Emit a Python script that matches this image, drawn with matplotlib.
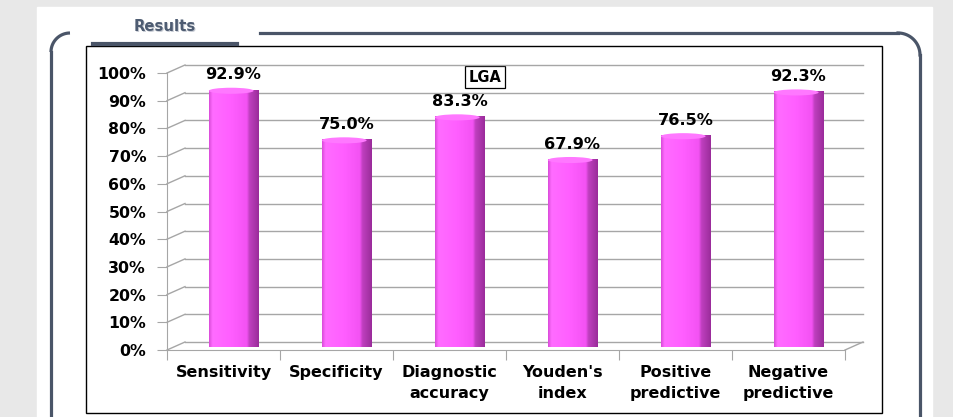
import numpy as np
import matplotlib
matplotlib.use("Agg")
import matplotlib.pyplot as plt
from matplotlib import transforms
from matplotlib.patches import Rectangle, Ellipse
from matplotlib.lines import Line2D
from matplotlib.colors import LinearSegmentedColormap

# Data
categories = ["Sensitivity", "Specificity", "Diagnostic\naccuracy",
              "Youden's\nindex", "Positive\npredictive", "Negative\npredictive"]
values = [92.9, 75.0, 83.3, 67.9, 76.5, 92.3]
y_ticks = list(range(0, 101, 10))
chart_title = "LGA"
slide_title = "Results"

W, H = 954, 417
fig = plt.figure(figsize=(W / 100, H / 100), dpi=100)

# background layer in pixel coords (y downwards)
bg = fig.add_axes([0, 0, 1, 1], zorder=0)
bg.set_xlim(0, W)
bg.set_ylim(H, 0)
bg.axis("off")
bg.add_patch(Rectangle((0, 0), W, H, color="#e8e8e8"))
bg.add_patch(Rectangle((37, 7), 895, 420, color="white"))

border = "#4a5568"
lw_b = 2.3
# top-left corner stub
t = np.linspace(np.pi, 1.5 * np.pi, 30)
bg.plot(70 + 19 * np.cos(t), 52 + 19 * np.sin(t), color=border, lw=lw_b, solid_capstyle="butt")
bg.plot([51, 51], [52, H], color=border, lw=lw_b)
# top line and right corner
t = np.linspace(1.5 * np.pi, 2 * np.pi, 30)
bg.plot(898 + 22 * np.cos(t), 55 + 22 * np.sin(t), color=border, lw=lw_b)
bg.plot([260, 898], [33, 33], color=border, lw=lw_b)
bg.plot([920, 920], [55, H], color=border, lw=lw_b)
# slide title tab
bg.plot([93, 237], [43.5, 43.5], color=border, lw=3)
bg.text(166, 27, slide_title, ha="center", va="center", fontsize=10.7,
        fontweight="bold", color="#c8ccd4")
bg.text(165, 26, slide_title, ha="center", va="center", fontsize=10.7,
        fontweight="bold", color="#4e5c72")
# chart frame
bg.add_patch(Rectangle((86, 46), 796, 367, fill=False, ec="black", lw=1))
bg.text(485, 77, chart_title, ha="center", va="center", fontsize=10.5, fontweight="bold",
        bbox=dict(boxstyle="square,pad=0.25", fc="white", ec="black", lw=0.9))

# chart axes (front plane of the 3D chart)
left, right, top, bottom = 167, 845, 73, 350
ax = fig.add_axes([left / W, (H - bottom) / H, (right - left) / W, (bottom - top) / H], zorder=1)
ax.patch.set_alpha(0)
n = len(categories)
ax.set_xlim(0, n)
ax.set_ylim(0, 100)

def shift(px, py):
    return ax.transData + transforms.ScaledTranslation(px / 100, py / 100, fig.dpi_scale_trans)

grid_c = "#a6a6a6"
back = shift(18, 8)
for yv in y_ticks:
    # back wall gridline
    ax.add_line(Line2D([0, n], [yv, yv], transform=back, color=grid_c, lw=1, clip_on=False, zorder=0))
    # side diagonal from the front axis to the back wall
    p0 = ax.transData.transform((0, yv))
    ax.add_line(Line2D([p0[0], p0[0] + 18], [p0[1], p0[1] + 8], transform=None,
                       color=grid_c, lw=1, clip_on=False, zorder=0))
p0 = ax.transData.transform((n, 0))
ax.add_line(Line2D([p0[0], p0[0] + 18], [p0[1], p0[1] + 8], transform=None,
                   color=grid_c, lw=1, clip_on=False, zorder=0))

# bars at mid depth with a shaded gradient
bar_tr = shift(10, 3)
w = 0.44
cmap = LinearSegmentedColormap.from_list("bar", [
    (0.0, "#d84ad8"), (0.07, "#ff6cff"), (0.45, "#ff5eff"), (0.76, "#f352f3"),
    (0.81, "#c040c0"), (1.0, "#9a2c9a")])
grad = np.linspace(0, 1, 256).reshape(1, -1)
for i, v in enumerate(values):
    x0 = i + 0.5 - w / 2
    rect = Rectangle((x0, 0), w, v, transform=bar_tr, fc="none", ec="none")
    ax.add_patch(rect)
    im = ax.imshow(grad, cmap=cmap, extent=[x0, x0 + w, 0, v], aspect="auto",
                   transform=bar_tr, zorder=2, interpolation="bilinear")
    im.set_clip_path(rect)
    ax.add_patch(Ellipse((i + 0.5 - 0.02, v - 0.4), w * 0.9, 2.2, transform=bar_tr,
                         fc="#ff78ff", ec="none", zorder=3))
    ax.text(i + 0.5, v + 2.6, f"{v:.1f}%", transform=bar_tr, ha="center", va="bottom",
            fontsize=11.6, fontweight="bold", zorder=4)

ax.set_xlim(0, n)
ax.set_ylim(0, 100)
for s in ["top", "right"]:
    ax.spines[s].set_visible(False)
for s in ["left", "bottom"]:
    ax.spines[s].set_color(grid_c)
    ax.spines[s].set_zorder(0)

ax.set_yticks(y_ticks)
ax.set_yticklabels([f"{t}%" for t in y_ticks], fontsize=11.3, fontweight="bold")
ax.tick_params(axis="y", length=7, color=grid_c, pad=8)
ax.set_xticks(range(n + 1))
ax.set_xticklabels([])
ax.tick_params(axis="x", which="major", length=7, color=grid_c)
ax.set_xticks(np.arange(n) + 0.5, minor=True)
ax.set_xticklabels(categories, minor=True, fontsize=11.5, fontweight="bold", linespacing=1.45)
ax.tick_params(axis="x", which="minor", length=0, pad=11)

fig.savefig("out.png", dpi=100)
